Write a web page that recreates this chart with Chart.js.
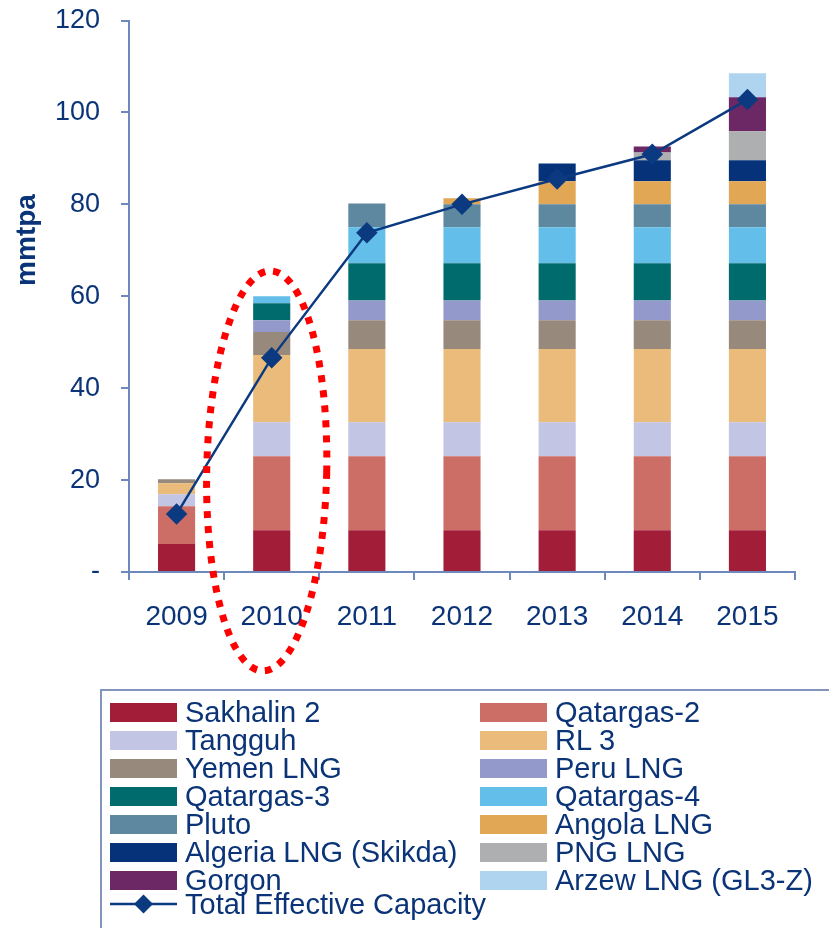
<!DOCTYPE html>
<html>
<head>
<meta charset="utf-8">
<script src="https://cdn.jsdelivr.net/npm/chart.js@4"></script>
<style>
  html, body { margin: 0; padding: 0; background: #fff; }
  #wrap { position: relative; width: 829px; height: 928px; overflow: hidden; font-family: "Liberation Sans", Arial, sans-serif; }
  #chart-box { position: absolute; left: 0; top: 0; width: 829px; height: 690px; }
  #legend { position: absolute; left: 100px; top: 689px; width: 760px; height: 260px; border: 2px solid #8394bd; box-sizing: border-box; }
  .item { position: absolute; height: 28px; display: flex; align-items: center; font-size: 29px; color: #0b3478; white-space: nowrap; }
  .sw { width: 67px; height: 19px; margin-right: 8px; flex: none; }
  .item svg { margin-right: 8px; flex: none; }
</style>
</head>
<body>
<div id="wrap">
  <div id="chart-box"><canvas id="capacity"></canvas></div>
  <div id="legend"></div>
</div>
<script>
const years = ["2009", "2010", "2011", "2012", "2013", "2014", "2015"];

const sakhalin2 = [6.1, 9.1, 9.1, 9.1, 9.1, 9.1, 9.1];
const qatargas2 = [8.2, 16.1, 16.1, 16.1, 16.1, 16.1, 16.1];
const tangguh = [2.6, 7.4, 7.4, 7.4, 7.4, 7.4, 7.4];
const rl3 = [2.4, 14.6, 15.9, 15.9, 15.9, 15.9, 15.9];
const yemenLng = [0.9, 5.0, 6.3, 6.3, 6.3, 6.3, 6.3];
const peruLng = [0, 2.6, 4.3, 4.3, 4.3, 4.3, 4.3];
const qatargas3 = [0, 3.7, 8.1, 8.1, 8.1, 8.1, 8.1];
const qatargas4 = [0, 1.5, 7.8, 7.8, 7.8, 7.8, 7.8];
const pluto = [0, 0, 5.2, 5.0, 5.0, 5.0, 5.0];
const angolaLng = [0, 0, 0, 1.3, 5.0, 5.0, 5.0];
const algeriaLng = [0, 0, 0, 0, 3.9, 4.6, 4.6];
const pngLng = [0, 0, 0, 0, 0, 1.7, 6.3];
const gorgon = [0, 0, 0, 0, 0, 1.3, 7.4];
const arzewLng = [0, 0, 0, 0, 0, 0, 5.2];
const totalEffective = [12.6, 46.6, 73.8, 80.0, 85.5, 90.9, 102.8];

const yTicks = [0, 20, 40, 60, 80, 100, 120];

const projects = [
  ["Sakhalin 2", sakhalin2, "#a21d38"],
  ["Qatargas-2", qatargas2, "#cc6e66"],
  ["Tangguh", tangguh, "#c3c5e4"],
  ["RL 3", rl3, "#ebbb7b"],
  ["Yemen LNG", yemenLng, "#978a7c"],
  ["Peru LNG", peruLng, "#9399ca"],
  ["Qatargas-3", qatargas3, "#006b6d"],
  ["Qatargas-4", qatargas4, "#63bfea"],
  ["Pluto", pluto, "#5e87a0"],
  ["Angola LNG", angolaLng, "#e2a755"],
  ["Algeria LNG (Skikda)", algeriaLng, "#06327a"],
  ["PNG LNG", pngLng, "#aeafb1"],
  ["Gorgon", gorgon, "#6c2765"],
  ["Arzew LNG (GL3-Z)", arzewLng, "#aed4ef"],
];

const textBlue = "#0b3478";
const axisBlue = "#6d89bb";
const lineBlue = "#0b3a80";

const datasets = projects.map(([label, values, color]) => ({
  type: "bar",
  label,
  data: values,
  backgroundColor: color,
  borderWidth: 0,
  barPercentage: 0.39,
  categoryPercentage: 1,
  order: 1,
}));

datasets.push({
  type: "line",
  label: "Total Effective Capacity",
  data: totalEffective,
  stack: "total",
  borderColor: lineBlue,
  backgroundColor: lineBlue,
  borderWidth: 2.5,
  pointStyle: "rectRot",
  pointRadius: 9,
  tension: 0,
  order: 0,
});

// y title sits above the middle of the axis, so draw it by hand
const axisTitle = {
  id: "axisTitle",
  afterDraw(chart) {
    const ctx = chart.ctx;
    ctx.save();
    ctx.translate(27, 240);
    ctx.rotate(-Math.PI / 2);
    ctx.font = "bold 28px 'Liberation Sans', Arial, sans-serif";
    ctx.fillStyle = textBlue;
    ctx.textAlign = "center";
    ctx.textBaseline = "middle";
    ctx.fillText("mmtpa", 0, 0);
    ctx.restore();
  },
};

// red dotted ring round 2010
const ring = {
  id: "ring",
  afterDraw(chart) {
    const { ctx, scales } = chart;
    const cx = scales.x.getPixelForValue(1) - 5;
    const cy = scales.y.getPixelForValue(22);
    ctx.save();
    ctx.strokeStyle = "#ff0000";
    ctx.lineWidth = 7;
    ctx.setLineDash([7, 8]);
    ctx.beginPath();
    ctx.ellipse(cx, cy, 60, 200, 0.02, 0, Math.PI * 2);
    ctx.stroke();
    ctx.restore();
  },
};

new Chart(document.getElementById("capacity"), {
  data: { labels: years, datasets },
  options: {
    responsive: true,
    maintainAspectRatio: false,
    animation: false,
    layout: { padding: { top: 20.5, right: 34, left: 0, bottom: 0 } },
    plugins: { legend: { display: false }, tooltip: { enabled: false } },
    scales: {
      x: {
        stacked: true,
        afterFit: (scale) => { scale.height = 118; },
        border: { color: axisBlue, width: 2 },
        grid: { offset: true, drawOnChartArea: false, drawTicks: true, tickLength: 8, color: axisBlue, lineWidth: 2 },
        ticks: { color: textBlue, font: { family: "'Liberation Sans', Arial, sans-serif", size: 28 }, padding: 20, maxRotation: 0 },
      },
      y: {
        stacked: true,
        min: 0,
        max: 120,
        afterFit: (scale) => {
          scale.width = 129;
          scale.paddingTop = 0;
          scale.paddingBottom = 0;
        },
        afterBuildTicks: (scale) => { scale.ticks = yTicks.map((v) => ({ value: v })); },
        border: { color: axisBlue, width: 2 },
        grid: { drawOnChartArea: false, drawTicks: true, tickLength: 8, color: axisBlue, lineWidth: 2 },
        ticks: {
          color: textBlue,
          font: { family: "'Liberation Sans', Arial, sans-serif", size: 27 },
          padding: 21,
          callback: (v) => (v === 0 ? "-" : v),
        },
      },
    },
  },
  plugins: [axisTitle, ring],
});

// legend: two columns of swatches, then the line entry
const legend = document.getElementById("legend");
projects.forEach(([label, , color], i) => {
  const item = document.createElement("div");
  item.className = "item";
  item.style.left = (i % 2 === 0 ? 8 : 378) + "px";
  item.style.top = 7 + 28 * Math.floor(i / 2) + "px";
  item.innerHTML = `<span class="sw" style="background:${color}"></span>${label}`;
  legend.appendChild(item);
});
const lineItem = document.createElement("div");
lineItem.className = "item";
lineItem.style.left = "8px";
lineItem.style.top = 7 + 28 * 7 - 4 + "px";
lineItem.innerHTML =
  `<svg width="67" height="22"><line x1="0" y1="11" x2="67" y2="11" stroke="${lineBlue}" stroke-width="2.5"/>` +
  `<polygon points="33.5,1.5 43,11 33.5,20.5 24,11" fill="${lineBlue}"/></svg>Total Effective Capacity`;
legend.appendChild(lineItem);
</script>
</body>
</html>
